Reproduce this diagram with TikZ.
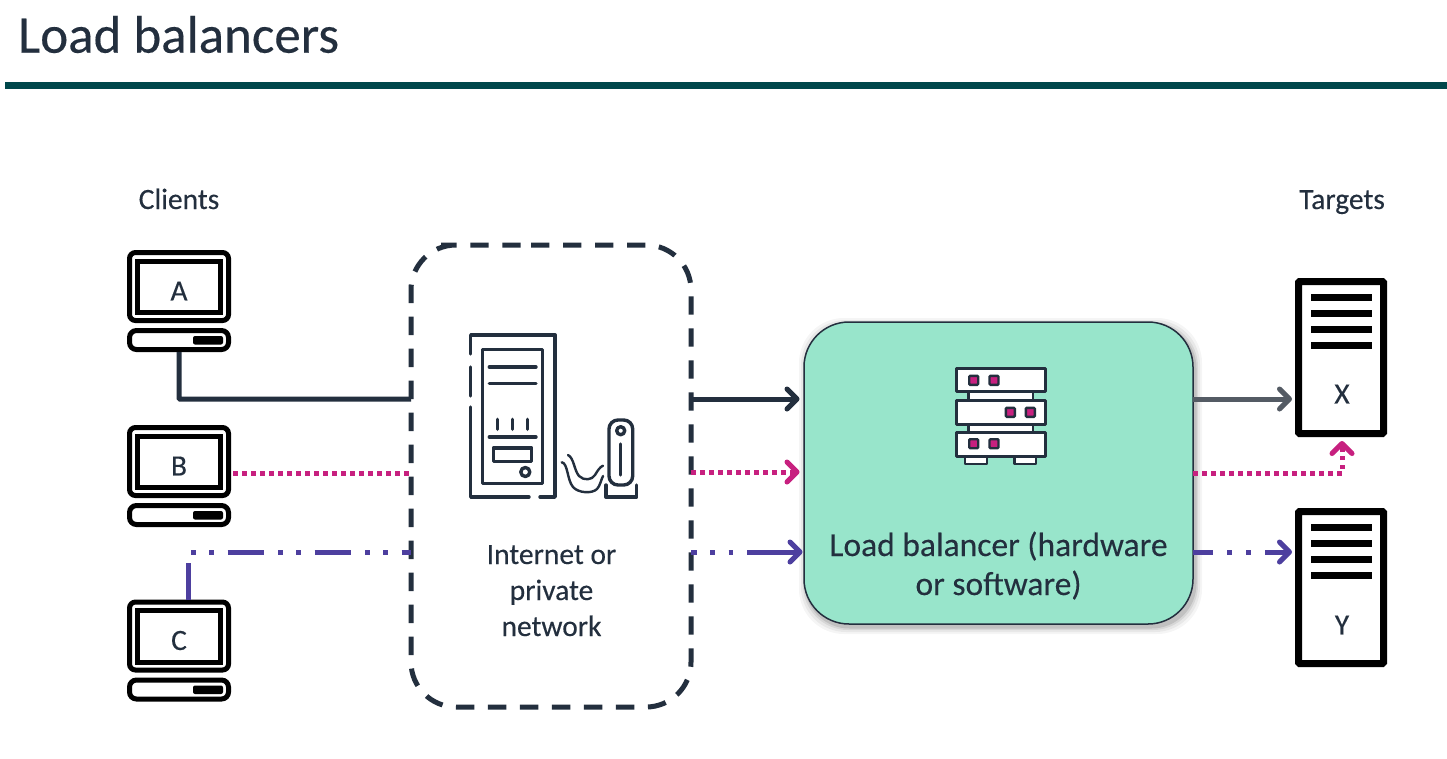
\documentclass[tikz,border=0pt]{standalone}
\usepackage{fontspec}
\setmainfont{Carlito}[FakeBold=0.25]
\usetikzlibrary{arrows.meta}
\definecolor{ink}{HTML}{232F3E}
\definecolor{teal}{HTML}{00474B}
\definecolor{mint}{HTML}{98E5CB}
\definecolor{pinkc}{HTML}{C7207F}
\definecolor{purp}{HTML}{4D3F9F}
\definecolor{greyc}{HTML}{545B64}
\tikzset{
  x=1pt,y=-1pt,
  every node/.style={inner sep=0pt,outer sep=0pt,text=ink},
  lbl/.style={font=\fontsize{29.5}{36}\selectfont,align=center},
  lblbig/.style={font=\fontsize{33.5}{38.5}\selectfont,align=center},
  chev/.style={-{Straight Barb[length=10pt,width=20pt,line cap=round,line join=round]}},
  gapchev/.style={chev,shorten >=4.5pt},
  solidline/.style={draw=ink,line width=5pt},
  dotline/.style={draw=pinkc,line width=5pt,dash pattern=on 4.5pt off 4.5pt},
  dashdot/.style={draw=purp,line width=5pt,dash pattern=on 4.5pt off 13.5pt on 4.5pt off 14pt on 36.5pt off 14pt},
  blk/.style={draw=black,line width=5pt},
  icon/.style={draw=ink,line width=3.4pt,line cap=round,line join=round},
  lbicon/.style={fill=white,draw=ink,line width=3pt,line join=round},
}
\newcommand{\pc}[2]{% y-offset, letter
  \begin{scope}[yshift=-#1pt]
    \draw[blk,rounded corners=6pt] (129.5,252.5) rectangle (228.5,320.5);
    \draw[blk] (137.5,261) rectangle (220.5,312.5);
    \draw[blk,rounded corners=7pt] (129.5,330.5) rectangle (228.5,349.5);
    \fill[black,rounded corners=2pt] (193,336) rectangle (223,344.5);
    \node[lbl] at (179,291) {#2};
  \end{scope}}
\newcommand{\srv}[1]{% y-offset
  \begin{scope}[yshift=-#1pt]
    \draw[draw=black,line width=7pt,rounded corners=1pt] (1298.5,281.5) rectangle (1383.5,433.5);
    \foreach \yy in {297,313,329,345}{\fill[black] (1311,\yy-3.5) rectangle (1372,\yy+3.5);}
  \end{scope}}
\begin{document}
\begin{tikzpicture}
\useasboundingbox (0,0) rectangle (1447,758);
\fill[white] (0,0) rectangle (1447,758);
% title
\node[anchor=west,font=\fontsize{53}{56}\selectfont] (title) at (18,34.5) {Load balancers};
\fill[teal] (5,82) rectangle (1447,89);
\node[lbl,anchor=base] (clients) at (179,209) {Clients};
\node[lbl,anchor=base] (targets) at (1342,209) {Targets};
% clients
\pc{0}{A}\pc{175}{B}\pc{349.5}{C}
\coordinate (aout) at (179,352);
\coordinate (bout) at (233,473);
\coordinate (cout) at (188,600);
% cloud
\node[minimum width=280pt,minimum height=462pt] (net) at (551,476) {};
\draw[draw=ink,line width=5pt,dash pattern=on 18.4pt off 13.6pt,rounded corners=45pt]
  (486,245) -- (691,245) -- (691,707) -- (411,707) -- (411,245) -- cycle;
% server icon
\draw[icon] (470.7,354) -- (470.7,335) -- (555,335) -- (555,497) -- (540,497);
\draw[icon] (529,497) -- (470.7,497) -- (470.7,407);
\draw[icon] (470.7,367) -- (470.7,396);
\draw[icon] (482.7,349.3) rectangle (542.3,483.3);
\draw[icon] (489.3,367) -- (536,367) (489.3,383.3) -- (536,383.3) (489.3,437) -- (536,437);
\draw[icon] (497.3,419.3) -- (497.3,429.3) (512.3,419.3) -- (512.3,429.3) (527.7,419.3) -- (527.7,429.3);
\draw[icon] (493.3,448) rectangle (531.7,461.3);
\draw[icon] (525.3,472) circle (4.5);
\draw[icon,rounded corners=9pt] (609,420) rectangle (632.7,485);
\draw[icon] (620.7,430.7) circle (4);
\draw[icon] (620.7,444) -- (620.7,475);
\draw[icon] (606,485) -- (606,497) -- (636.7,497) -- (636.7,485);
\draw[icon,line width=2.4pt] (561.7,462.3) .. controls (568,463) and (567,480) .. (573,487) .. controls (578,493) and (592,494) .. (597,489) .. controls (600,486) and (601,480) .. (603,476);
\draw[icon,line width=2.4pt] (568,455) .. controls (574,458) and (574,470) .. (579,476) .. controls (584,481) and (592,480) .. (595,475) .. controls (598,470) and (600,467) .. (603,465.7);
\node[lbl,anchor=base] (netlabel1) at (551.5,564) {Internet or};
\node[lbl,anchor=base] (netlabel2) at (551.5,600) {private};
\node[lbl,anchor=base] (netlabel3) at (551.5,636) {network};
% load balancer
\foreach \o/\op in {7/0.04,5/0.05,3/0.07,1.5/0.1}{
  \fill[black,opacity=\op,rounded corners=45pt] (804-\o+2,322-\o+3) rectangle (1193+\o+2,624+\o+3);}
\node[draw=ink,line width=1.5pt,fill=mint,rounded corners=45pt,minimum width=389pt,minimum height=302pt] (lb) at (998.5,473) {};
\foreach \yy in {391,424}{\draw[lbicon,line width=2.4pt] (968.3,\yy) rectangle (1032.7,\yy+10);}
\draw[lbicon,line width=2.4pt] (965,456) rectangle (986.7,464);
\draw[lbicon,line width=2.4pt] (1014.3,456) rectangle (1036,464);
\foreach \yy in {368.3,400.7,432.5}{\draw[lbicon] (956.7,\yy) rectangle (1045.3,\yy+23.6);}
\foreach \xx/\yy in {973.7/380.3,994/380.3,1010.3/412.3,1030.3/412.3,973.7/443.7,994/443.7}{
  \fill[pinkc,draw=ink,line width=2.4pt,rounded corners=1pt] (\xx-4.5,\yy-4.5) rectangle (\xx+4.5,\yy+4.5);}
\node[lblbig,anchor=base] (lblabel1) at (998.5,556) {Load balancer (hardware};
\node[lblbig,anchor=base] (lblabel2) at (998.5,595) {or software)};
% targets
\srv{0}\srv{230}
\node[lbl] (xlab) at (1342,394) {X};
\node[lbl] (ylab) at (1342,625) {Y};
\coordinate (xin) at (1292,399);
\coordinate (xpink) at (1342,441);
\coordinate (yin) at (1292,552);
% connectors
\coordinate (netAw) at (net.west |- 0,399);
\coordinate (netAe) at (net.east |- 0,399);
\coordinate (netBw) at (net.west |- 0,473);
\coordinate (netBe) at (net.east |- 0,472);
\coordinate (netCw) at (net.west |- 0,552);
\coordinate (netCe) at (net.east |- 0,552);
\coordinate (lbA) at (lb.west |- 0,399);
\coordinate (lbB) at (lb.west |- 0,472);
\coordinate (lbC) at (lb.west |- 0,552);
\coordinate (lbAe) at (lb.east |- 0,399);
\coordinate (lbBe) at (lb.east |- 0,473);
\coordinate (lbCe) at (lb.east |- 0,552);
\draw[solidline,rounded corners=1pt] (aout) -- (179,399) -- (netAw);
\draw[draw=ink,line width=5pt,gapchev] (netAe) -- (lbA);
\draw[dotline] (bout) -- (netBw);
\draw[dotline] (netBe) -- (789,472);
\draw[draw=pinkc,line width=5pt,gapchev] (790,472) -- (lbB);
\draw[draw=purp,line width=5pt] (cout) -- (188,563);
\draw[dashdot] (191,552) -- (netCw);
\draw[draw=purp,line width=5pt,dash pattern=on 6pt off 13pt on 4.5pt off 14pt on 4.5pt off 14pt on 50pt off 0pt] (netCe) -- (785,552);
\draw[draw=purp,line width=5pt,chev,shorten >=1.5pt] (780,552) -- (lbC);
\draw[draw=greyc,line width=5pt,chev] (lbAe) -- (xin);
\draw[dotline] (lbBe) -- (1342,473) -- (1342,451);
\draw[draw=pinkc,line width=5pt,chev] (1342,452) -- (xpink);
\draw[draw=purp,line width=5pt,dash pattern=on 20pt off 14pt on 5pt off 14pt on 5pt off 14pt on 40pt off 0pt] (lbCe) -- (1283,552);
\draw[draw=purp,line width=5pt,chev] (1270,552) -- (yin);
\end{tikzpicture}
\end{document}
